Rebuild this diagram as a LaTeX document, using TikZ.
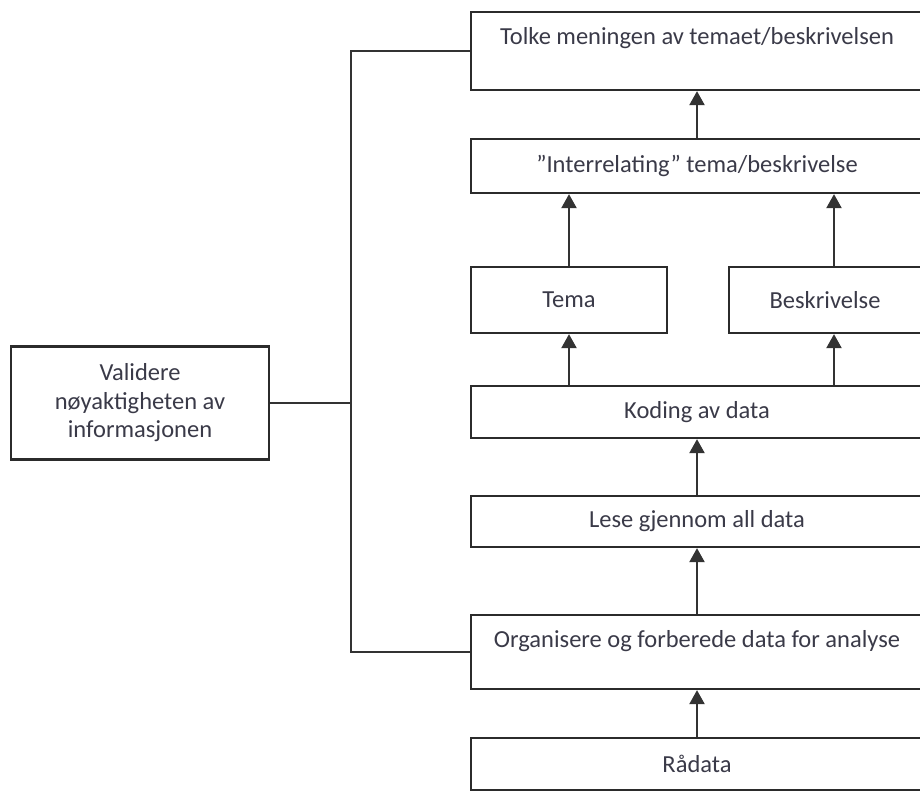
\documentclass[tikz,border=0pt]{standalone}
\usepackage{fontspec}
\setmainfont{Carlito}
\usetikzlibrary{arrows.meta}
\definecolor{boxc}{HTML}{2B2B2B}
\definecolor{linec}{HTML}{333333}
\definecolor{txt}{HTML}{3A3A48}
\begin{document}
\begin{tikzpicture}[x=1pt,y=-1pt,
  box/.style={draw=boxc, line width=2.3pt, fill=white, inner sep=0pt, align=center,
    font=\fontsize{24.5}{28.5}\selectfont, text=txt},
  arr/.style={-{Triangle[width=15pt,length=14pt]}, line width=2.3pt, draw=linec},
  link/.style={line width=2.3pt, draw=linec}]
\useasboundingbox (0,0) rectangle (920,792);
\node[box, minimum width=452pt, minimum height=78pt, text height=33pt, text depth=45pt] (top) at (697,51) {Tolke meningen av temaet/beskrivelsen};
\node[box, minimum width=452pt, minimum height=54pt] (inter) at (697,166) {”Interrelating” tema/beskrivelse};
\node[box, minimum width=196pt, minimum height=66pt] (tema) at (569,300) {Tema};
\node[box, minimum width=192pt, minimum height=66pt] (besk) at (825,300) {Beskrivelse};
\node[box, minimum width=452pt, minimum height=52pt] (kod) at (697,412) {Koding av data};
\node[box, minimum width=452pt, minimum height=51pt] (lese) at (697,521.5) {Lese gjennom all data};
\node[box, minimum width=452pt, minimum height=74pt, text height=32pt, text depth=42pt] (org) at (697,652) {Organisere og forberede data for analyse};
\node[box, minimum width=452pt, minimum height=52pt] (raa) at (697,764) {Rådata};
\node[box, minimum width=258pt, minimum height=113pt] (val) at (140,403) {Validere\\nøyaktigheten av\\informasjonen};
\coordinate (j) at (351,403);
\coordinate (bt) at ([xshift=9pt]besk.north);
\coordinate (bb) at ([xshift=9pt]besk.south);
\draw[link] (top.west) -| (j) |- (org.west);
\draw[link] (val.east) -- (j);
\draw[arr] (inter.north) -- (top.south);
\draw[arr] (tema.north) -- (tema.north |- inter.south);
\draw[arr] (bt) -- (bt |- inter.south);
\draw[arr] (kod.north -| tema.south) -- (tema.south);
\draw[arr] (kod.north -| bb) -- (bb);
\draw[arr] (lese.north) -- (kod.south);
\draw[arr] (org.north) -- (lese.south);
\draw[arr] (raa.north) -- (org.south);
\end{tikzpicture}
\end{document}
